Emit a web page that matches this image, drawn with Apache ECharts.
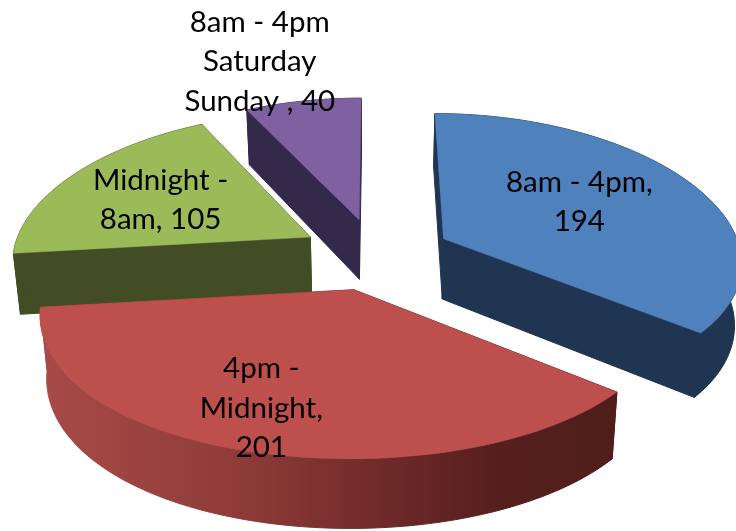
<!DOCTYPE html>
<html><head><meta charset="utf-8">
<style>html,body{margin:0;padding:0;background:#fff}#c{width:736px;height:531px}</style>
<script src="https://cdn.jsdelivr.net/npm/echarts@6/dist/echarts.min.js"></script>
</head><body><div id="c"></div>
<script>
const categories = ['8am - 4pm', '4pm - Midnight', 'Midnight - 8am', '8am - 4pm Saturday Sunday'];
const values = [194, 201, 105, 40];
const labelTexts = ['8am - 4pm,\n194', '4pm -\nMidnight,\n201', 'Midnight -\n8am, 105', '8am - 4pm\nSaturday\nSunday , 40'];
const topColors = ['#4F81BD', '#BD4F4C', '#9BBB59', '#7F60A0'];
const wallColors = ['#1F3552', null, '#424D25', '#33294A'];
const zRank = [3, 4, 1, 2];

// projection of the tilted, exploded pie
const P = {cx: 376, cy: 254, S: 298, T: 142, kx: 0.15, ky: 0.11, depth: 61, depthK: 0.1, shrink: 0.02, explode: 0.255};
// label position relative to projected slice mid-point at radius 0.6
const labelShift = [[-15, -2], [-33, 26], [-4, 1], [-64, -84]];
const total = values.reduce((a, b) => a + b, 0);

function project(u, v, z) {
  const w = (1 + P.kx * v) * (1 + P.shrink * z);
  const wy = 1 + P.ky * v;
  return [P.cx + P.S * u / w, P.cy - P.T * v / wy + P.depth * z / (1 + P.depthK * v)];
}
const redWall = {type: 'linear', x: 45, y: 0, x2: 612, y2: 0, global: true, colorStops: [
  {offset: 0, color: '#A84A47'}, {offset: 0.35, color: '#8E3B38'}, {offset: 0.6, color: '#6E2A29'},
  {offset: 0.8, color: '#551F1D'}, {offset: 1, color: '#4F1E1B'}]};

function renderItem(params, api) {
  const i = params.dataIndex;
  let before = 0;
  for (let j = 0; j < i; j++) before += values[j];
  const a0 = before / total * 2 * Math.PI, a1 = (before + api.value(0)) / total * 2 * Math.PI;
  const mid = (a0 + a1) / 2;
  const u0 = Math.sin(mid) * P.explode, v0 = Math.cos(mid) * P.explode;
  const steps = 60, arc = [];
  for (let s = 0; s <= steps; s++) {
    const a = a0 + (a1 - a0) * s / steps;
    arc.push([u0 + Math.sin(a), v0 + Math.cos(a)]);
  }
  const topPts = [project(u0, v0, 0)].concat(arc.map(p => project(p[0], p[1], 0)));
  const wallFill = i === 1 ? redWall : wallColors[i];
  const base = zRank[i] * 10;
  const wall = pts => ({type: 'polygon', z2: base, shape: {points: pts},
    style: {fill: wallFill, stroke: wallFill, lineWidth: 1, lineJoin: 'round'}});
  const children = [];
  const c0 = [u0, v0], first = arc[0], last = arc[steps];
  children.push(wall([project(c0[0], c0[1], 0), project(first[0], first[1], 0), project(first[0], first[1], 1), project(c0[0], c0[1], 1)]));
  children.push(wall([project(c0[0], c0[1], 0), project(last[0], last[1], 0), project(last[0], last[1], 1), project(c0[0], c0[1], 1)]));
  children.push(wall(arc.map(p => project(p[0], p[1], 0)).concat(arc.slice().reverse().map(p => project(p[0], p[1], 1)))));
  children.push({type: 'polygon', z2: base + 1, shape: {points: topPts}, style: {fill: topColors[i], stroke: topColors[i], lineWidth: 0.5}});
  const m = project(u0 + Math.sin(mid) * 0.6, v0 + Math.cos(mid) * 0.6, 0);
  children.push({type: 'text', z2: 100, style: {
    x: m[0] + labelShift[i][0], y: m[1] + labelShift[i][1], text: labelTexts[i], fill: '#000',
    font: '29.5px Lato', align: 'center', verticalAlign: 'middle', lineHeight: 39.5}});
  return {type: 'group', children};
}
const chart = echarts.init(document.getElementById('c'), null, {renderer: 'canvas'});
chart.setOption({
  animation: false,
  backgroundColor: '#fff',
  series: [{type: 'custom', coordinateSystem: 'none', renderItem, clip: false,
    data: values.map((v, i) => ({name: categories[i], value: [v]}))}]
});
</script></body></html>
